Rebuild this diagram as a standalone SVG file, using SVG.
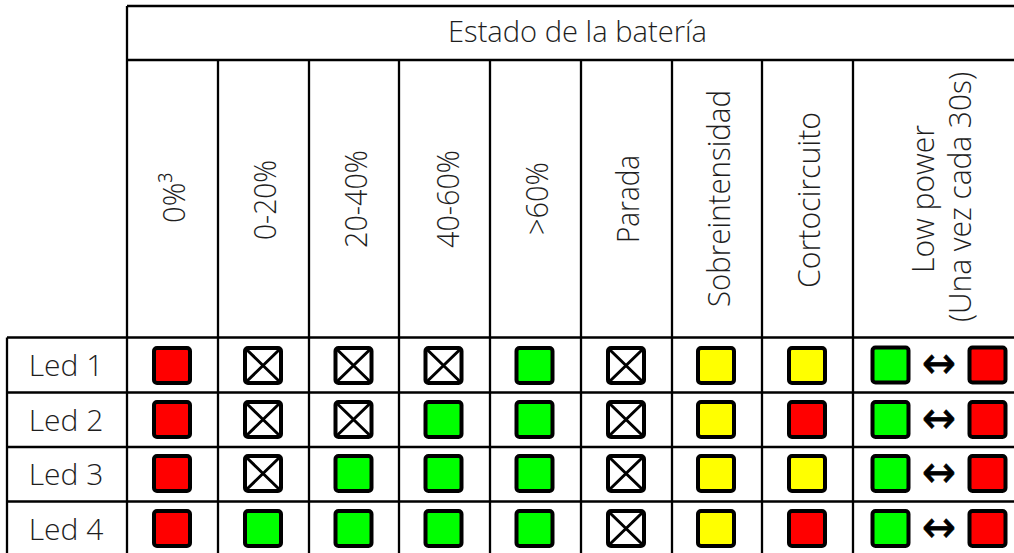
<svg xmlns="http://www.w3.org/2000/svg" width="1014" height="553" viewBox="0 0 1014 553">
<style>
.t{font-family:"Open Sans","Liberation Sans",sans-serif;font-weight:300;font-size:30px;fill:#1e1e1e;text-anchor:middle}
.v{font-size:32px}
.g{stroke:#000;stroke-width:2.3;fill:none}
.led{stroke:#000;stroke-width:4}
.r{fill:#ff0000}.gr{fill:#00ff00}.y{fill:#ffff00}
.arr{font-family:"DejaVu Sans",sans-serif;font-size:44px;fill:#000;stroke:#000;stroke-width:0.7;text-anchor:middle}
</style>
<defs>
<rect id="sq" x="-18" y="-17.5" width="36" height="35" rx="3"/>
<g id="xb">
<rect x="-18" y="-17.5" width="36" height="35" rx="3" fill="#fff" stroke="#000" stroke-width="4"/>
<path d="M-17,-16.5L17,16.5M17,-16.5L-17,16.5" stroke="#000" stroke-width="3"/>
</g>
</defs>
<rect width="1014" height="553" fill="#fff"/>
<g id="grid" class="g">
<path d="M127,6H1014M127,60H1014M7,337.5H1014M7,392.5H1014M7,447H1014M7,501.5H1014"/>
<path d="M7,337.5V553M127,6V553M218,60V553M309,60V553M399,60V553M490,60V553M581,60V553M672,60V553M762,60V553M853,60V553"/>
</g>
<g id="header">
<text class="t" x="577.5" y="42" textLength="259" lengthAdjust="spacingAndGlyphs">Estado de la batería</text>
</g>
<g id="cols">
<text class="t v" transform="translate(185,198) rotate(-90)" textLength="50" lengthAdjust="spacingAndGlyphs">0%³</text>
<text class="t v" transform="translate(275.5,200) rotate(-90)" textLength="80" lengthAdjust="spacingAndGlyphs">0-20%</text>
<text class="t v" transform="translate(366.5,199) rotate(-90)" textLength="98" lengthAdjust="spacingAndGlyphs">20-40%</text>
<text class="t v" transform="translate(458.5,199) rotate(-90)" textLength="98" lengthAdjust="spacingAndGlyphs">40-60%</text>
<text class="t v" transform="translate(547.5,198.5) rotate(-90)" textLength="73" lengthAdjust="spacingAndGlyphs">&gt;60%</text>
<text class="t v" transform="translate(638.5,199) rotate(-90)" textLength="88" lengthAdjust="spacingAndGlyphs">Parada</text>
<text class="t v" transform="translate(729.5,198.5) rotate(-90)" textLength="217" lengthAdjust="spacingAndGlyphs">Sobreintensidad</text>
<text class="t v" transform="translate(819.5,200) rotate(-90)" textLength="176" lengthAdjust="spacingAndGlyphs">Cortocircuito</text>
<text class="t v" transform="translate(933.5,199) rotate(-90)" textLength="148" lengthAdjust="spacingAndGlyphs">Low power</text>
<text class="t v" transform="translate(970.5,197) rotate(-90)" textLength="250" lengthAdjust="spacingAndGlyphs">(Una vez cada 30s)</text>
</g>
<g id="rowlabels">
<text class="t" x="66" y="376">Led 1</text>
<text class="t" x="66" y="431">Led 2</text>
<text class="t" x="66" y="485">Led 3</text>
<text class="t" x="66" y="539.5">Led 4</text>
</g>
<g id="row1">
<use href="#sq" class="led r" x="172" y="365.5"/>
<use href="#xb" x="263" y="365.5"/>
<use href="#xb" x="353.5" y="365.5"/>
<use href="#xb" x="443.5" y="365.5"/>
<use href="#sq" class="led gr" x="534.5" y="365.5"/>
<use href="#xb" x="626" y="365.5"/>
<use href="#sq" class="led y" x="716" y="365.5"/>
<use href="#sq" class="led y" x="807" y="365.5"/>
<use href="#sq" class="led gr" x="890.5" y="365"/>
<text class="arr" x="939" y="378" textLength="34" lengthAdjust="spacingAndGlyphs">↔</text>
<use href="#sq" class="led r" x="987.5" y="365"/>
</g>
<g id="row2">
<use href="#sq" class="led r" x="172" y="419.5"/>
<use href="#xb" x="263" y="419.5"/>
<use href="#xb" x="353.5" y="419.5"/>
<use href="#sq" class="led gr" x="443.5" y="419.5"/>
<use href="#sq" class="led gr" x="534.5" y="419.5"/>
<use href="#xb" x="626" y="419.5"/>
<use href="#sq" class="led y" x="716" y="419.5"/>
<use href="#sq" class="led r" x="807" y="419.5"/>
<use href="#sq" class="led gr" x="890.5" y="419.5"/>
<text class="arr" x="939" y="432.5" textLength="34" lengthAdjust="spacingAndGlyphs">↔</text>
<use href="#sq" class="led r" x="987.5" y="419.5"/>
</g>
<g id="row3">
<use href="#sq" class="led r" x="172" y="473.5"/>
<use href="#xb" x="263" y="473.5"/>
<use href="#sq" class="led gr" x="353.5" y="473.5"/>
<use href="#sq" class="led gr" x="443.5" y="473.5"/>
<use href="#sq" class="led gr" x="534.5" y="473.5"/>
<use href="#xb" x="626" y="473.5"/>
<use href="#sq" class="led y" x="716" y="473.5"/>
<use href="#sq" class="led y" x="807" y="473.5"/>
<use href="#sq" class="led gr" x="890.5" y="473.5"/>
<text class="arr" x="939" y="486.5" textLength="34" lengthAdjust="spacingAndGlyphs">↔</text>
<use href="#sq" class="led r" x="987.5" y="473.5"/>
</g>
<g id="row4">
<use href="#sq" class="led r" x="172" y="528.5"/>
<use href="#sq" class="led gr" x="263" y="528.5"/>
<use href="#sq" class="led gr" x="353.5" y="528.5"/>
<use href="#sq" class="led gr" x="443.5" y="528.5"/>
<use href="#sq" class="led gr" x="534.5" y="528.5"/>
<use href="#xb" x="626" y="528.5"/>
<use href="#sq" class="led y" x="716" y="528.5"/>
<use href="#sq" class="led r" x="807" y="528.5"/>
<use href="#sq" class="led gr" x="890.5" y="528.5"/>
<text class="arr" x="939" y="541.5" textLength="34" lengthAdjust="spacingAndGlyphs">↔</text>
<use href="#sq" class="led r" x="987.5" y="528.5"/>
</g>
</svg>
